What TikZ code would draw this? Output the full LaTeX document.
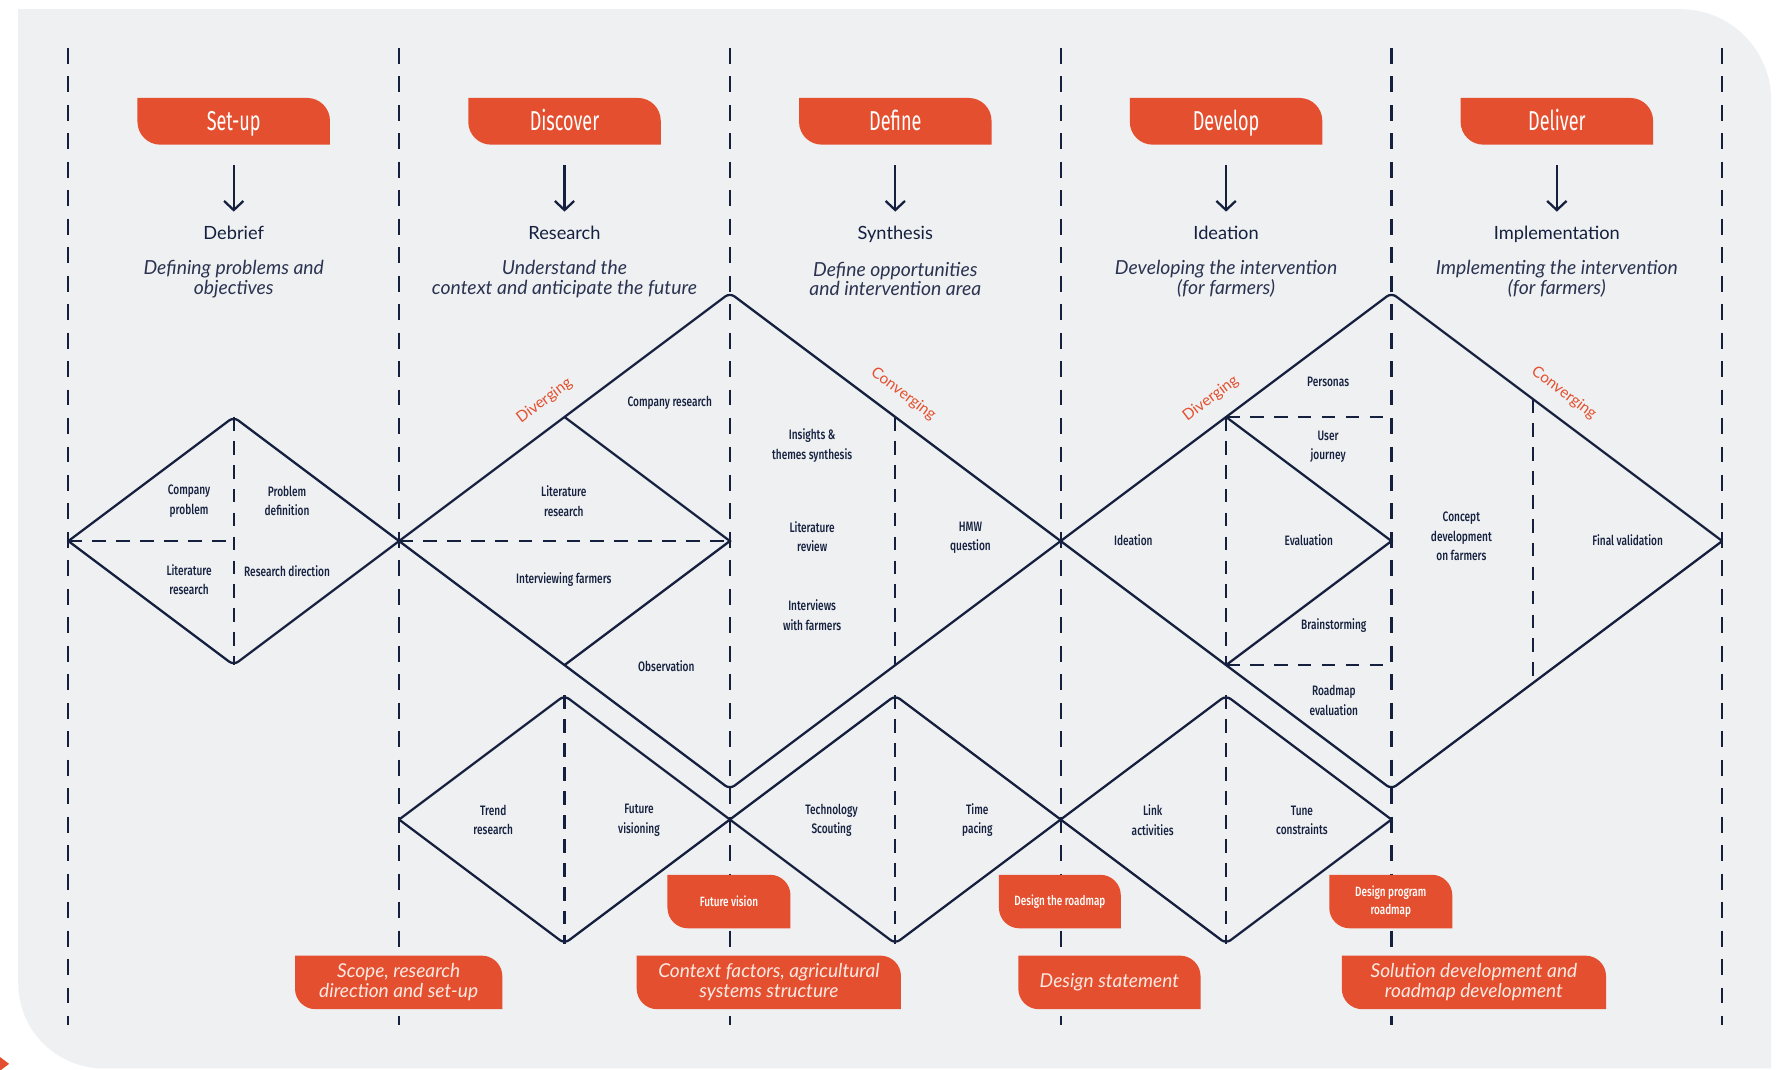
\documentclass[tikz,border=0pt]{standalone}
\usepackage{fontspec}
\usetikzlibrary{arrows.meta}
\setmainfont{Lato}
\newfontfamily\condfont[FakeStretch=0.66]{Fira Sans}
\newfontfamily\condmed[FakeStretch=0.74]{Fira Sans Medium}

\definecolor{navy}{HTML}{14203E}
\definecolor{brand}{HTML}{E4502F}
\definecolor{panel}{HTML}{EFF0F2}
\definecolor{tabtext}{HTML}{FCE9E3}
\definecolor{subtext}{HTML}{2A3350}

\tikzset{
  colsep/.style={draw=navy, line width=2pt, dash pattern=on 14pt off 11pt},
  inner/.style={draw=navy, line width=2pt, dash pattern=on 12pt off 9pt},
  edge/.style={draw=navy, line width=2pt, rounded corners=5pt, line join=round},
  sharpedge/.style={draw=navy, line width=2pt, line join=miter},
  lbl/.style={text=navy, font=\condmed\fontsize{12}{17}\selectfont, align=center, inner sep=0pt},
  hdr/.style={text=white, font=\condfont\fontsize{24}{26}\selectfont, inner sep=0pt, text height=16.5pt, text depth=0pt},
  ttl/.style={text=navy, font=\fontsize{16}{18}\selectfont, inner sep=0pt, text height=11pt, text depth=3pt},
  sub/.style={text=subtext, font=\itshape\fontsize{17}{17.2}\selectfont, align=center, inner sep=0pt},
  phase/.style={text=brand, font=\fontsize{13.5}{16}\selectfont, inner sep=0pt},
  outtxt/.style={text=tabtext, font=\itshape\fontsize{16.8}{17.5}\selectfont, align=center, inner sep=0pt},
  smalltxt/.style={text=white, font=\condmed\fontsize{11.8}{16}\selectfont, align=center, inner sep=0pt},
  down/.style={draw=navy, line width=2pt, -{Straight Barb[length=8pt,width=17pt]}, shorten <=18pt, shorten >=13pt},
}

% orange tab: square top-left and bottom-right, rounded top-right and bottom-left
% #1 name, #2 left, #3 top, #4 right, #5 bottom, #6 radius, #7 style, #8 text
\newcommand\otab[8]{%
  \fill[brand] (#2,#3) -- ({#4-#6},#3) arc[start angle=270,end angle=360,radius=#6]
    -- (#4,#5) -- ({#2+#6},#5) arc[start angle=90,end angle=180,radius=#6] -- cycle;
  \node[#7, minimum width={#4-#2}, minimum height={#5-#3}] (#1) at ({(#2+#4)/2},{(#3+#5)/2}) {#8};}

\begin{document}
\begin{tikzpicture}[x=1pt,y=-1pt]
\useasboundingbox (0,0) rectangle (1568,939);
\fill[white] (0,0) rectangle (1568,939);

% background panel
\fill[panel] (16,8) -- (1475,8) arc[start angle=270,end angle=360,radius=80]
  -- (1555,938) -- (91,938) arc[start angle=90,end angle=180,radius=75] -- cycle;
\fill[brand] (0,928) -- (8,934) -- (0,940) -- cycle;

% column separators
\foreach \k in {0,...,5}
  \draw[colsep] ({60+\k*290.4},42) -- ({60+\k*290.4},900);

% ---- Set-up diamond
\draw[edge] (60,475) -- (205.2,366.1) -- (350.4,475);
\draw[edge] (60,475) -- (205.2,583.9) -- (350.4,475);
\draw[inner] (205.2,366.1) -- (205.2,583.9);
\draw[inner] (60,475) -- (205.2,475);

% ---- Discover / Define diamond
\draw[edge] (350.4,475) -- (640.8,257.2) -- (931.2,475);
\draw[edge] (350.4,475) -- (640.8,692.8) -- (931.2,475);
\draw[sharpedge] (495.6,366.1) -- (640.8,475) -- (495.6,583.9);
\draw[inner] (350.4,475) -- (640.8,475);
\draw[inner] (786,366.1) -- (786,583.9);

% ---- Develop / Deliver diamond
\draw[edge] (931.2,475) -- (1221.6,257.2) -- (1512,475);
\draw[edge] (931.2,475) -- (1221.6,692.8) -- (1512,475);
\draw[sharpedge] (1076.4,366.1) -- (1221.6,475) -- (1076.4,583.9);
\draw[inner] (1076.4,366.1) -- (1221.6,366.1);
\draw[inner] (1076.4,583.9) -- (1221.6,583.9);
\draw[inner] (1076.4,366.1) -- (1076.4,583.9);
\draw[inner] (1346,350.5) -- (1346,599.5);

% ---- lower row of diamonds
\foreach \c in {495.6,786,1076.4}{
  \draw[edge] ({\c-145.2},719.5) -- (\c,610.6) -- ({\c+145.2},719.5);
  \draw[edge] ({\c-145.2},719.5) -- (\c,828.4) -- ({\c+145.2},719.5);
  \draw[inner] (\c,610.6) -- (\c,828.4);
}

% ---- column headers
\otab{hdrA}{120.7}{86}{289.7}{127}{20}{hdr}{Set-up}
\otab{hdrB}{411.1}{86}{580.1}{127}{20}{hdr}{Discover}
\otab{hdrC}{701.5}{86}{870.5}{127}{20}{hdr}{Define}
\otab{hdrD}{991.9}{86}{1160.9}{127}{20}{hdr}{Develop}
\otab{hdrE}{1282.3}{86}{1451.3}{127}{20}{hdr}{Deliver}

\node[ttl] (ttlA) at (205.2,206) {Debrief};
\node[ttl] (ttlB) at (495.6,206) {Research};
\node[ttl] (ttlC) at (786,206) {Synthesis};
\node[ttl] (ttlD) at (1076.4,206) {Ideation};
\node[ttl] (ttlE) at (1366.8,206) {Implementation};

\draw[down] (hdrA.south) -- (ttlA.north);
\draw[down] (hdrB.south) -- (ttlB.north);
\draw[down] (hdrC.south) -- (ttlC.north);
\draw[down] (hdrD.south) -- (ttlD.north);
\draw[down] (hdrE.south) -- (ttlE.north);

\node[sub] (subA) at (205.2,245) {Defining problems and\\objectives};
\node[sub] (subB) at (495.6,245) {Understand the\\context and anticipate the future};
\node[sub] (subC) at (786,245) {Define opportunities\\and intervention area};
\node[sub] (subD) at (1076.4,245) {Developing the  intervention\\(for farmers)};
\node[sub] (subE) at (1366.8,245) {Implementing the intervention\\(for farmers)};

% ---- phase labels along the diamond edges
\node[phase, rotate=36.87]  (divA) at (478,352) {Diverging};
\node[phase, rotate=-36.87] (conA) at (793,346) {Converging};
\node[phase, rotate=36.87]  (divB) at (1063,350) {Diverging};
\node[phase, rotate=-36.87] (conB) at (1373,345) {Converging};

% ---- activity labels
\node[lbl] (l1) at (166,440) {Company\\problem};
\node[lbl] (l2) at (252,440) {Problem\\definition};
\node[lbl] (l3) at (166,509) {Literature\\research};
\node[lbl] (l4) at (252,501) {Research direction};

\node[lbl] (l5) at (588,354) {Company research};
\node[lbl] (l6) at (495,440) {Literature\\research};
\node[lbl] (l7) at (495,509) {Interviewing farmers};
\node[lbl] (l8) at (585,585) {Observation};

\node[lbl] (l9)  at (713,391) {Insights \&\\themes synthesis};
\node[lbl] (l10) at (713,471) {Literature\\review};
\node[lbl] (l11) at (713,540) {Interviews\\with farmers};
\node[lbl] (l12) at (852,472) {HMW\\question};

\node[lbl] (l13) at (1166,335) {Personas};
\node[lbl] (l14) at (1166,392) {User\\journey};
\node[lbl] (l15) at (995,474) {Ideation};
\node[lbl] (l16) at (1149,474) {Evaluation};
\node[lbl] (l17) at (1171,549) {Brainstorming};
\node[lbl] (l18) at (1171,615) {Roadmap\\evaluation};

\node[lbl] (l19) at (1283,471) {Concept\\development\\on farmers};
\node[lbl] (l20) at (1429,474) {Final validation};

\node[lbl] (l21) at (433,720) {Trend\\research};
\node[lbl] (l22) at (561,720) {Future\\visioning};
\node[lbl] (l23) at (730,720) {Technology\\Scouting};
\node[lbl] (l24) at (858,720) {Time\\pacing};
\node[lbl] (l25) at (1012,720) {Link\\activities};
\node[lbl] (l26) at (1143,720) {Tune\\constraints};

% ---- outcome tabs
\otab{midA}{586}{768}{694}{815}{18}{smalltxt}{Future vision}
\otab{midB}{877}{768}{984}{815}{18}{smalltxt}{Design the roadmap}
\otab{midC}{1167}{768}{1275}{815}{18}{smalltxt}{Design program\\roadmap}

\otab{outA}{259}{839}{441}{886}{18}{outtxt}{Scope, research\\direction and set-up}
\otab{outB}{559}{839}{791}{886}{18}{outtxt}{Context factors, agricultural\\systems structure}
\otab{outC}{894}{839}{1054}{886}{18}{outtxt}{Design statement}
\otab{outD}{1178}{839}{1410}{886}{18}{outtxt}{Solution development and\\roadmap development}
\end{tikzpicture}
\end{document}
